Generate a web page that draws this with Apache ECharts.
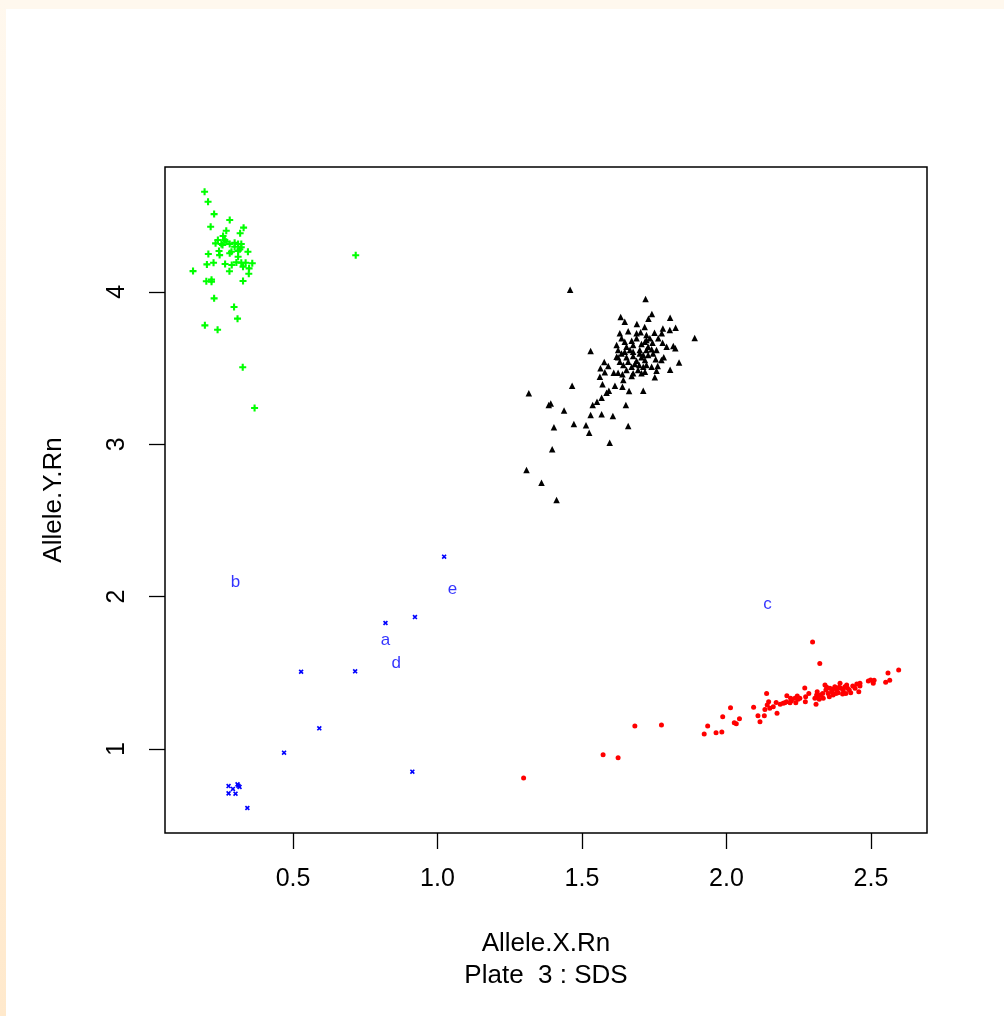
<!DOCTYPE html>
<html>
<head>
<meta charset="utf-8">
<script src="https://cdn.jsdelivr.net/npm/echarts@6/dist/echarts.min.js"></script>
<style>
html,body{margin:0;padding:0;background:#fff;}
#chart{width:1004px;height:1016px;}
</style>
</head>
<body>
<div id="chart"></div>
<script>
// ---- data ----
var xTicks = [0.5, 1.0, 1.5, 2.0, 2.5];
var yTicks = [1, 2, 3, 4];

var greenX = [0.194,0.206,0.227,0.281,0.215,0.329,0.269,0.317,0.258,0.240,0.264,0.232,0.252,0.269,0.281,0.298,0.310,0.321,0.298,0.321,0.316,0.310,0.244,0.281,0.246,0.207,0.344,0.310,0.202,0.225,0.265,0.288,0.304,0.321,0.336,0.359,0.327,0.348,0.154,0.280,0.347,0.200,0.218,0.218,0.327,0.227,0.296,0.308,0.195,0.239,0.326,0.367,0.717,0.256,0.287];
var greenY = [4.657,4.591,4.510,4.471,4.427,4.421,4.401,4.384,4.366,4.340,4.340,4.318,4.314,4.329,4.314,4.322,4.314,4.314,4.296,4.292,4.279,4.268,4.268,4.253,4.241,4.248,4.263,4.230,4.180,4.191,4.183,4.176,4.193,4.191,4.191,4.187,4.165,4.154,4.136,4.135,4.119,4.069,4.080,4.066,4.071,3.957,3.900,3.824,3.780,3.751,3.505,3.238,4.240,4.307,4.263];

var blackX = [1.459,1.720,1.742,1.634,1.648,1.805,1.730,1.690,1.717,1.824,1.780,1.804,1.890,1.660,1.631,1.689,1.703,1.751,1.776,1.637,1.648,1.672,1.723,1.735,1.764,1.620,1.654,1.677,1.706,1.718,1.744,1.779,1.793,1.816,1.823,1.530,1.625,1.637,1.677,1.700,1.723,1.741,1.620,1.654,1.677,1.706,1.729,1.783,1.577,1.631,1.660,1.689,1.718,1.755,1.775,1.836,1.591,1.564,1.643,1.672,1.698,1.723,1.741,1.762,1.579,1.562,1.610,1.625,1.640,1.677,1.706,1.718,1.758,1.805,1.752,1.672,1.571,1.643,1.614,1.640,1.466,1.593,1.585,1.663,1.712,1.316,1.568,1.552,1.392,1.385,1.537,1.652,1.438,1.530,1.568,1.607,1.403,1.472,1.514,1.660,1.525,1.596,1.397,1.308,1.360,1.412,1.700,1.712,1.729,1.746,1.666,1.689,1.723,1.758,1.648,1.694,1.712,1.654,1.625,1.683];
var blackY = [4.014,3.953,3.854,3.835,3.804,3.830,3.824,3.789,3.769,3.764,3.760,3.749,3.697,3.741,3.728,3.728,3.734,3.732,3.728,3.695,3.673,3.679,3.684,3.695,3.695,3.651,3.640,3.651,3.657,3.673,3.666,3.666,3.640,3.644,3.629,3.612,3.618,3.596,3.607,3.618,3.618,3.623,3.574,3.570,3.579,3.570,3.585,3.570,3.539,3.541,3.541,3.548,3.552,3.557,3.552,3.537,3.513,3.498,3.520,3.509,3.520,3.520,3.509,3.513,3.472,3.443,3.469,3.469,3.459,3.465,3.465,3.476,3.482,3.489,3.439,3.448,3.393,3.421,3.384,3.377,3.384,3.351,3.338,3.349,3.351,3.334,3.305,3.279,3.268,3.257,3.257,3.257,3.222,3.192,3.196,3.185,3.111,3.133,3.124,3.119,3.076,3.010,2.967,2.831,2.747,2.634,3.596,3.585,3.640,3.596,3.618,3.695,3.717,3.618,3.607,3.487,3.509,3.487,3.570,3.526];

var blueX = [1.023,0.922,0.820,0.528,0.715,0.591,0.469,0.913,0.342,0.277,0.292,0.308,0.315,0.277,0.301,0.311];
var blueY = [2.262,1.866,1.827,1.507,1.510,1.136,0.976,0.851,0.613,0.757,0.738,0.768,0.751,0.709,0.707,0.759];

var redX = [1.298,1.573,1.625,1.683,1.775,1.923,1.935,1.964,1.984,1.987,2.014,2.027,2.034,2.045,2.094,2.109,2.116,2.131,2.133,2.139,2.141,2.146,2.172,2.175,2.186,2.196,2.208,2.209,2.222,2.225,2.240,2.245,2.248,2.271,2.273,2.274,2.285,2.298,2.310,2.314,2.318,2.323,2.326,2.335,2.341,2.344,2.352,2.358,2.364,2.369,2.375,2.381,2.387,2.393,2.396,2.402,2.410,2.416,2.425,2.430,2.437,2.445,2.451,2.458,2.462,2.462,2.491,2.499,2.508,2.511,2.551,2.559,2.565,2.596,2.347,2.356,2.367,2.379,2.390,2.404,2.413,2.419,2.333,2.321,2.312,2.306,2.237,2.254,2.220,2.202,2.162,2.150];
var redY = [0.810,0.963,0.943,1.151,1.157,1.098,1.151,1.107,1.112,1.212,1.271,1.173,1.166,1.199,1.274,1.219,1.179,1.219,1.260,1.365,1.289,1.310,1.306,1.234,1.293,1.300,1.310,1.350,1.333,1.317,1.304,1.348,1.326,1.400,1.310,1.343,1.365,1.702,1.293,1.376,1.348,1.562,1.354,1.333,1.420,1.387,1.365,1.398,1.376,1.354,1.409,1.387,1.369,1.431,1.398,1.361,1.409,1.420,1.387,1.369,1.413,1.398,1.427,1.376,1.413,1.431,1.446,1.453,1.431,1.451,1.438,1.499,1.451,1.518,1.405,1.343,1.392,1.365,1.405,1.387,1.365,1.398,1.365,1.326,1.354,1.333,1.333,1.333,1.304,1.304,1.278,1.267];

var labelText = ['a','b','c','d','e'];
var labelX = [0.820, 0.301, 2.142, 0.857, 1.052];
var labelY = [1.715, 2.091, 1.951, 1.562, 2.050];

// ---- build ----
function zip(xs, ys){ return xs.map(function(v,i){ return [v, ys[i]]; }); }
var FONT = '"Liberation Sans", Arial, Helvetica, sans-serif';
var plusPath = 'path://M0,2.1H6V3.9H0Z M2.1,0H3.9V6H2.1Z';

var chart = echarts.init(document.getElementById('chart'), null, {renderer:'canvas'});
chart.setOption({
  backgroundColor: '#ffffff',
  animation: false,
  graphic: [
    {type:'rect', z:-10, shape:{x:0,y:0,width:1004,height:9}, style:{fill:'#FFF8EE'}},
    {type:'rect', z:-10, shape:{x:0,y:0,width:6,height:1016},
     style:{fill:new echarts.graphic.LinearGradient(0,0,0,1,[{offset:0,color:'#FFF8EE'},{offset:1,color:'#FFE9CC'}])}}
  ],
  grid: {left:165, right:77, top:167, bottom:183, show:true, borderColor:'#000', borderWidth:1.5, backgroundColor:'transparent', outerBoundsMode:'none'},
  xAxis: {
    type:'value', min:0.057, max:2.694,
    name:'Allele.X.Rn\nPlate  3 : SDS', nameLocation:'middle', nameGap:95,
    nameTextStyle:{fontFamily:FONT, fontSize:26, color:'#000', lineHeight:32},
    axisLine:{show:false},
    axisTick:{show:true, inside:false, length:16, customValues:xTicks, lineStyle:{color:'#000', width:1.3}},
    axisLabel:{show:true, margin:34, fontFamily:FONT, fontSize:25, color:'#000', customValues:xTicks,
      formatter:function(v){ return v.toFixed(1); }},
    splitLine:{show:false}
  },
  yAxis: {
    type:'value', min:0.449, max:4.819,
    name:'Allele.Y.Rn', nameLocation:'middle', nameGap:98, nameRotate:90,
    nameTextStyle:{fontFamily:FONT, fontSize:26, color:'#000'},
    axisLine:{show:false},
    axisTick:{show:true, inside:false, length:16, customValues:yTicks, lineStyle:{color:'#000', width:1.3}},
    axisLabel:{show:true, margin:35, rotate:90, fontFamily:FONT, fontSize:25, color:'#000', customValues:yTicks,
      formatter:function(v){ return String(Math.round(v)); }},
    splitLine:{show:false}
  },
  series: [
    {type:'scatter', name:'green', data:zip(greenX, greenY), symbol:plusPath, symbolSize:7, itemStyle:{color:'#00FF00', opacity:1}},
    {type:'scatter', name:'black', data:zip(blackX, blackY), symbol:'triangle', symbolSize:6.5, itemStyle:{color:'#000000', opacity:1}},
    {type:'scatter', name:'blue', data:zip(blueX, blueY), symbol:plusPath, symbolRotate:45, symbolSize:5.5, itemStyle:{color:'#0000FF', opacity:1}},
    {type:'scatter', name:'red', data:zip(redX, redY), symbol:'circle', symbolSize:5, itemStyle:{color:'#FF0000', opacity:1}},
    {type:'scatter', name:'labels', data:labelX.map(function(v,i){ return {value:[v, labelY[i]], name:labelText[i]}; }),
      symbolSize:0.1, itemStyle:{color:'rgba(0,0,0,0)'},
      label:{show:true, position:'inside', formatter:'{b}', color:'#0000FF', fontFamily:FONT, fontSize:17}}
  ]
});
</script>
</body>
</html>
